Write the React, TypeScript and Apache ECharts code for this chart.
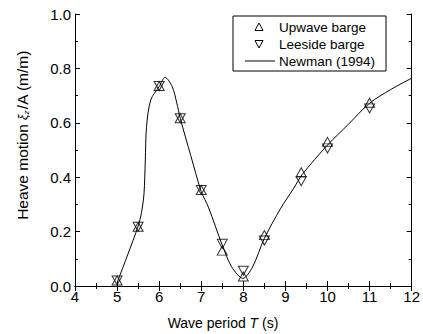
import React, { useEffect, useRef } from "react";
import * as echarts from "echarts";

const periods = [5, 5.5, 6, 6.5, 7, 7.5, 8, 8.5, 9.375, 10, 11];
const upwave = [0.02, 0.218, 0.735, 0.617, 0.353, 0.13, 0.035, 0.187, 0.418, 0.53, 0.674];
const leeside = [0.02, 0.218, 0.735, 0.617, 0.353, 0.155, 0.056, 0.167, 0.385, 0.506, 0.653];

const newmanT = [5.0, 5.25, 5.5, 5.58, 5.64, 5.67, 5.7, 5.8, 6.0, 6.14, 6.31, 6.42, 6.5, 6.75, 7.0, 7.17, 7.5, 7.72, 7.99, 8.22, 8.5, 8.89, 9.2, 9.4, 10.0, 10.5, 11.0, 11.5, 12.0];
const newmanH = [0.012, 0.114, 0.22, 0.27, 0.34, 0.46, 0.586, 0.684, 0.733, 0.767, 0.733, 0.672, 0.617, 0.48, 0.347, 0.29, 0.15, 0.071, 0.028, 0.07, 0.175, 0.286, 0.36, 0.41, 0.518, 0.595, 0.672, 0.722, 0.764];

const legendLabels = ["Upwave barge", "Leeside barge", "Newman (1994)"];

const FONT = "'Liberation Sans', Arial, sans-serif";
const DOWN_TRI = "path://M0,0L10,0L5,9Z";

export default function App() {
  const ref = useRef<HTMLDivElement>(null);
  useEffect(() => {
    if (!ref.current) return;
    const chart = echarts.init(ref.current, undefined, { renderer: "svg" });
    const axisCommon = {
      axisLine: { show: true, lineStyle: { color: "#000", width: 1 } },
      axisTick: { show: true, inside: true, length: 5, lineStyle: { color: "#000" } },
      minorTick: { show: true, splitNumber: 2, length: 3, lineStyle: { color: "#000" } },
      splitLine: { show: false },
    };
    const lx = 233, ly = 16, lw = 153, lh = 55;
    chart.setOption({
      animation: false,
      backgroundColor: "#fff",
      textStyle: { fontFamily: FONT },
      grid: { left: 75, right: 7, top: 14, bottom: 48, containLabel: false },
      xAxis: [
        {
          type: "value", min: 4, max: 12, interval: 1, position: "bottom",
          ...axisCommon,
          axisLabel: { color: "#000", fontSize: 15, fontFamily: FONT, margin: 3 },
        },
        {
          type: "value", min: 4, max: 12, interval: 1, position: "top",
          ...axisCommon,
          axisLabel: { show: false },
        },
      ],
      yAxis: [
        {
          type: "value", min: 0, max: 1, interval: 0.2, position: "left",
          ...axisCommon,
          axisLabel: {
            color: "#000", fontSize: 15, fontFamily: FONT, margin: 4,
            formatter: (v: number) => v.toFixed(1),
          },
        },
        {
          type: "value", min: 0, max: 1, interval: 0.2, position: "right",
          ...axisCommon,
          axisLabel: { show: false },
        },
      ],
      graphic: [
        {
          type: "text",
          x: 223, y: 323,
          style: {
            text: "Wave period {i|T} (s)",
            fontSize: 14,
            fontFamily: FONT,
            fill: "#000",
            align: "center",
            verticalAlign: "middle",
            rich: {
              i: { fontStyle: "italic", fontSize: 14, fontFamily: FONT, fill: "#000" },
            },
          },
        },
        {
          type: "text",
          x: 22, y: 135, rotation: Math.PI / 2,
          style: {
            text: "Heave motion {i|ξ}{s|z}/A (m/m)",
            fontSize: 15.5,
            fontFamily: FONT,
            fill: "#000",
            align: "center",
            verticalAlign: "middle",
            rich: {
              i: { fontStyle: "italic", fontSize: 12, fontFamily: FONT, fill: "#000", padding: [2, 0, 0, 0] },
              s: { fontStyle: "italic", fontSize: 8, fontFamily: FONT, fill: "#000", padding: [9, 1, 0, 0] },
            },
          },
        },
        {
          type: "rect", shape: { x: lx, y: ly, width: lw, height: lh },
          style: { fill: "#fff", stroke: "#000", lineWidth: 1 }, z: 10,
        },
        {
          type: "polygon", shape: { points: [[259, 23], [263, 30.5], [255, 30.5]] },
          style: { fill: "none", stroke: "#000", lineWidth: 1 }, z: 11,
        },
        {
          type: "polygon", shape: { points: [[255, 40.5], [263, 40.5], [259, 48]] },
          style: { fill: "none", stroke: "#000", lineWidth: 1 }, z: 11,
        },
        {
          type: "line", shape: { x1: 245, y1: 61, x2: 275, y2: 61 },
          style: { stroke: "#000", lineWidth: 1 }, z: 11,
        },
        ...legendLabels.map((t, i) => ({
          type: "text", x: 279, y: 27 + i * 17, z: 11,
          style: { text: t, fontSize: 13.5, fontFamily: FONT, fill: "#000", verticalAlign: "middle" },
        })),
      ],
      series: [
        {
          name: "Newman (1994)",
          type: "line",
          data: newmanT.map((t, i) => [t, newmanH[i]]),
          smooth: 0.3,
          showSymbol: false,
          symbol: "none",
          lineStyle: { color: "#000", width: 1 },
          z: 2,
        },
        {
          name: "Upwave barge",
          type: "scatter",
          data: periods.map((t, i) => [t, upwave[i]]),
          symbol: "triangle",
          symbolSize: [10, 9],
          itemStyle: { color: "transparent", borderColor: "#000", borderWidth: 1 },
          z: 3,
        },
        {
          name: "Leeside barge",
          type: "scatter",
          data: periods.map((t, i) => [t, leeside[i]]),
          symbol: DOWN_TRI,
          symbolSize: [10, 9],
          itemStyle: { color: "transparent", borderColor: "#000", borderWidth: 1 },
          z: 3,
        },
      ],
    });
    return () => chart.dispose();
  }, []);
  return <div ref={ref} style={{ width: 423, height: 334, position: "absolute", left: 0, top: 0 }} />;
}
